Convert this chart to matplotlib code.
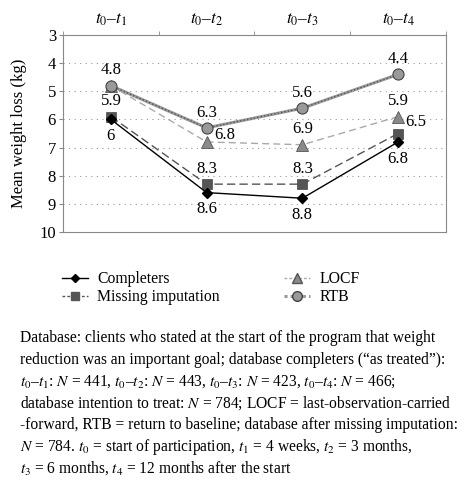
import matplotlib
matplotlib.use("Agg")
import matplotlib.pyplot as plt

plt.rcParams['font.family'] = ['Liberation Serif', 'DejaVu Serif']
plt.rcParams['mathtext.fontset'] = 'stix'

categories = [r'$t_0$–$t_1$', r'$t_0$–$t_2$', r'$t_0$–$t_3$', r'$t_0$–$t_4$']
completers = [6.0, 8.6, 8.8, 6.8]
missing_imp = [5.9, 8.3, 8.3, 6.5]
locf = [4.8, 6.8, 6.9, 5.9]
rtb = [4.8, 6.3, 5.6, 4.4]
y_ticks = [3, 4, 5, 6, 7, 8, 9, 10]

fig = plt.figure(figsize=(4.72, 4.86), dpi=100)
ax = fig.add_axes([63/472, 1-232/486, (446-63)/472, (232-35)/486])

x = [i + 0.5 for i in range(len(categories))]

ax.plot(x, rtb, color='#9a9a9a', lw=2.2, zorder=3)
ax.plot(x, rtb, color='#555555', lw=1.0, ls=(0, (1, 1.5)), zorder=3)
ax.plot(x, rtb, ls='none', marker='o', ms=8, mfc='#999999', mec='#444444', mew=0.8, zorder=6)
ax.plot(x, locf, color='#aaaaaa', lw=1.0, ls=(0, (5, 3)), marker='^', ms=8,
        mfc='#8a8a8a', mec='#555555', mew=0.6, zorder=4)
ax.plot(x, missing_imp, color='#555555', lw=1.0, ls=(0, (6, 3)), marker='s', ms=7,
        mfc='#555555', mec='#444444', mew=0.5, zorder=5)
ax.plot(x, completers, color='black', lw=1.0, marker='D', ms=5.5,
        mfc='black', mec='black', zorder=5)

fs = 12
def lab(xi, v, dx, dy):
    ax.annotate(f'{v:g}', (x[xi], v), xytext=(dx, dy), textcoords='offset points',
                ha='center', va='center', fontsize=fs, zorder=8)

for i in range(4):
    lab(i, rtb[i], 0, 11)
lab(1, locf[1], 13, 5)
lab(2, locf[2], 0, 11)
lab(3, locf[3], 0, 11)
lab(0, missing_imp[0], 0, 11)
lab(1, missing_imp[1], 0, 11)
lab(2, missing_imp[2], 0, 11)
lab(3, missing_imp[3], 13, 8)
for i in range(4):
    lab(i, completers[i], 0, -12)

ax.set_xlim(0, len(categories))
ax.set_ylim(10, 3)
ax.set_yticks(y_ticks)
ax.tick_params(axis='y', labelsize=fs, length=3, color='#888888', pad=2)
ax.set_xticks(x)
ax.set_xticklabels(categories, fontsize=fs + 0.5)
ax.xaxis.tick_top()
ax.tick_params(axis='x', which='major', length=0, pad=5)
ax.set_xticks(range(len(categories) + 1), minor=True)
ax.tick_params(axis='x', which='minor', top=True, bottom=False, length=3, color='#888888')
for yv in y_ticks[1:-1]:
    ax.axhline(yv, color='#999999', lw=0.8, ls=(0, (1, 4)), zorder=1)
for s in ax.spines.values():
    s.set_color('#888888')
    s.set_linewidth(0.8)
ax.set_ylabel('Mean weight loss (kg)', fontsize=fs, labelpad=9)

from matplotlib.lines import Line2D
h1 = Line2D([], [], color='black', lw=1.0, marker='D', ms=4.5, mfc='black')
h2 = Line2D([], [], color='#555555', lw=1.0, ls=(0, (2, 1.5)), marker='s', ms=6, mfc='#555555')
h3 = Line2D([], [], color='#aaaaaa', lw=1.0, ls=(0, (2, 1.5)), marker='^', ms=7, mfc='#8a8a8a', mec='#555555')
h4 = Line2D([], [], color='#9a9a9a', lw=2.2, ls=(0, (1, 1)), marker='o', ms=7, mfc='#999999', mec='#444444')
fig.legend([h1, h2, h3, h4], ['Completers', 'Missing imputation', 'LOCF', 'RTB'],
           loc='upper left', bbox_to_anchor=(62/472, 1-271/486), ncol=2, frameon=False,
           fontsize=11.3, handlelength=1.65, handletextpad=0.6, columnspacing=4.1,
           labelspacing=0.15, borderpad=0, borderaxespad=0)

caption = [
    "Database: clients who stated at the start of the program that weight",
    "reduction was an important goal; database completers (“as treated”):",
    r"$t_0$–$t_1$: $N$ = 441, $t_0$–$t_2$: $N$ = 443, $t_0$–$t_3$: $N$ = 423, $t_0$–$t_4$: $N$ = 466;",
    r"database intention to treat: $N$ = 784; LOCF = last-observation-carried",
    "-forward, RTB = return to baseline; database after missing imputation:",
    r"$N$ = 784. $t_0$ = start of participation, $t_1$ = 4 weeks, $t_2$ = 3 months,",
    r"$t_3$ = 6 months, $t_4$ = 12 months after the start",
]
y0 = 338
for i, line in enumerate(caption):
    fig.text(20/472, 1 - (y0 + i * 21.7)/486, line, fontsize=11.2, ha='left', va='center')

fig.savefig('out.png', dpi=100)
